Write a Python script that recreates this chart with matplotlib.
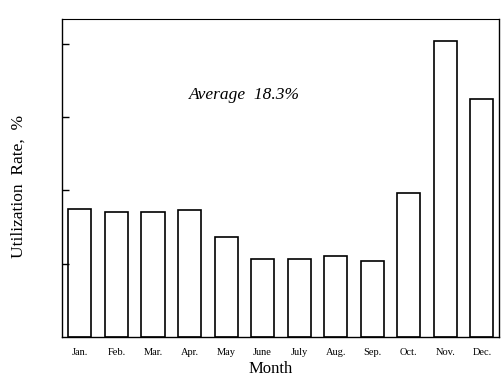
import matplotlib.pyplot as plt

months = ['Jan.', 'Feb.', 'Mar.', 'Apr.', 'May', 'June', 'July', 'Aug.', 'Sep.', 'Oct.', 'Nov.', 'Dec.']
rate = [17.4, 17.0, 17.1, 17.3, 13.6, 10.6, 10.7, 11.05, 10.4, 19.6, 40.4, 32.5]
y_ticks = [10, 20, 30, 40]

plt.rcParams['font.family'] = ['Liberation Serif', 'DejaVu Serif']

fig = plt.figure(figsize=(5.02, 3.79), dpi=100)
ax = fig.add_axes([0.1235, 0.1108, 0.8715, 0.8392])

x = list(range(len(months)))
ax.bar(x, rate, width=0.63, color='white', edgecolor='black', linewidth=1.2)

ax.set_xlim(-0.49, 11.48)
ax.set_ylim(0, 43.4)
ax.set_xticks(x)
ax.set_xticklabels(months, fontsize=7.5)
ax.tick_params(axis='x', length=0, pad=8)
ax.set_yticks(y_ticks)
ax.set_yticklabels([])
ax.tick_params(axis='y', direction='in', length=5, width=1)

for s in ax.spines.values():
    s.set_linewidth(1.0)
ax.spines['top'].set_linewidth(0.8)

ax.set_xlabel('Month', fontsize=12)
ax.xaxis.set_label_coords(0.4777, -0.074)
ax.set_ylabel('Utilization  Rate,  %', fontsize=12.5)
ax.yaxis.set_label_coords(-0.08, 0.472)

ax.text(4.51, 33.0, 'Average  18.3%', fontsize=12.5, ha='center', va='center', style='italic')

plt.savefig('out.png', dpi=100)
